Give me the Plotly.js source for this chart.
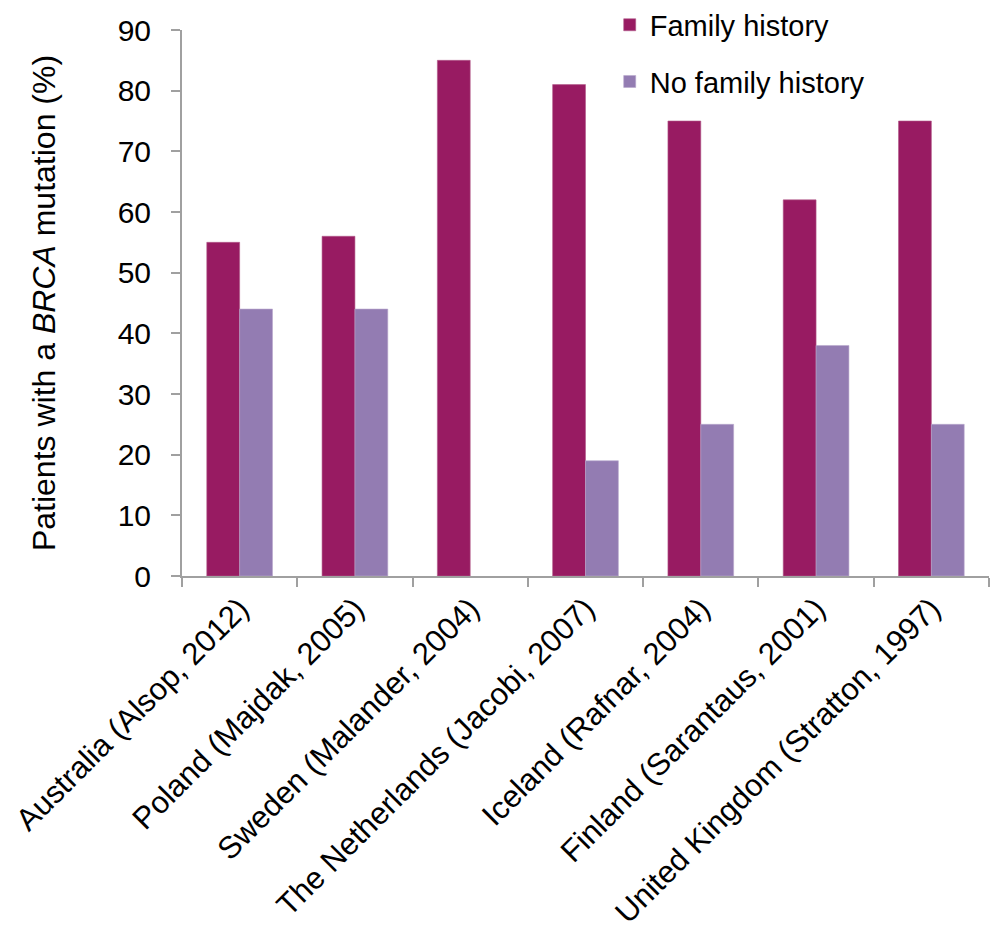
<!DOCTYPE html>
<html>
<head>
<meta charset="utf-8">
<script src="https://cdn.plot.ly/plotly-3.0.1.min.js"></script>
<style>
  html, body { margin: 0; padding: 0; background: #fff; }
  #chart { width: 999px; height: 939px; }
</style>
</head>
<body>
<div id="chart"></div>
<script>
// Share of patients carrying a BRCA mutation, by study and family history
const studies = [
  'Australia (Alsop, 2012)',
  'Poland (Majdak, 2005)',
  'Sweden (Malander, 2004)',
  'The Netherlands (Jacobi, 2007)',
  'Iceland (Rafnar, 2004)',
  'Finland (Sarantaus, 2001)',
  'United Kingdom (Stratton, 1997)'
];
const familyHistory   = [55, 56, 85, 81, 75, 62, 75];
const noFamilyHistory = [44, 44, null, 19, 25, 38, 25];
const yTicks = [0, 10, 20, 30, 40, 50, 60, 70, 80, 90];

const FONT = 'Arial, "Liberation Sans", sans-serif';
const AXIS_GREY = '#a0a0a0';

const traces = [
  {
    type: 'bar', name: 'Family history', x: studies, y: familyHistory,
    marker: { color: '#981B62', line: { color: '#b25a8a', width: 0.6 } },
    legendgroup: 'fh', hoverinfo: 'x+y'
  },
  {
    type: 'bar', name: 'No family history', x: studies, y: noFamilyHistory,
    marker: { color: '#937CB2', line: { color: '#b8a8cc', width: 0.6 } },
    legendgroup: 'nfh', hoverinfo: 'x+y'
  }
];

const layout = {
  width: 999, height: 939,
  margin: { l: 182, r: 10, t: 30, b: 363, autoexpand: false },
  paper_bgcolor: '#fff', plot_bgcolor: '#fff',
  font: { family: FONT, size: 29, color: '#000' },
  barmode: 'group',
  bargap: 0.43,
  bargroupgap: 0,
  showlegend: true,
  legend: {
    x: 0.53, y: 1.056, xanchor: 'left', yanchor: 'top',
    bgcolor: 'rgba(0,0,0,0)',
    font: { family: FONT, size: 29, color: '#000' },
    traceorder: 'grouped', tracegroupgap: 16,
    itemwidth: 30
  },
  xaxis: {
    type: 'category',
    tickangle: -45,
    showline: true, linecolor: AXIS_GREY, linewidth: 2,
    ticks: 'outside', tickson: 'boundaries', ticklen: 9, tickwidth: 2, tickcolor: AXIS_GREY,
    tickfont: { family: FONT, size: 31, color: '#000' },
    showgrid: false, zeroline: false, automargin: false
  },
  yaxis: {
    range: [0, 90],
    tickvals: yTicks, ticktext: yTicks.map(String),
    showline: true, linecolor: AXIS_GREY, linewidth: 2,
    ticks: 'outside', ticklen: 9, tickwidth: 2, tickcolor: AXIS_GREY,
    ticklabelstandoff: 14,
    tickfont: { family: FONT, size: 30, color: '#000' },
    showgrid: false, zeroline: false, automargin: false,
    title: {
      text: 'Patients with a <i>BRCA</i> mutation (%)',
      font: { family: FONT, size: 32, color: '#000' },
      standoff: 52
    }
  }
};

Plotly.newPlot('chart', traces, layout, { displayModeBar: false, staticPlot: true });
</script>
</body>
</html>
